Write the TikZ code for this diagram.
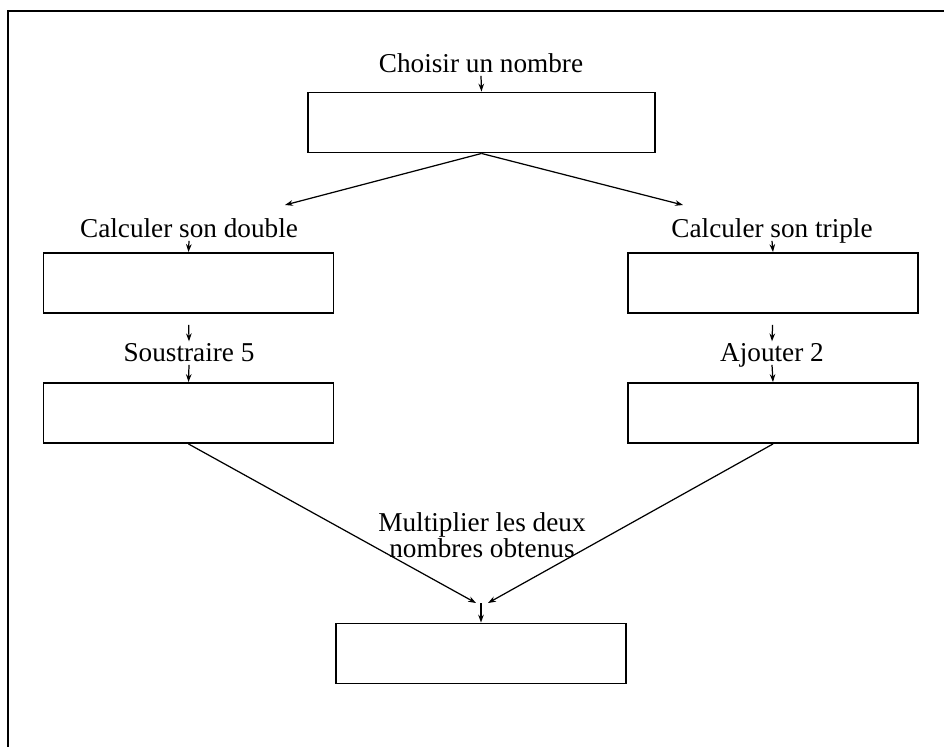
\documentclass[tikz,border=0pt]{standalone}
\usepackage{fontspec}
\setmainfont{Liberation Serif}
\usetikzlibrary{arrows.meta}

\begin{document}
\begin{tikzpicture}[x=0.02cm,y=-0.02cm,
  boite/.style={draw,line width=1.1pt,minimum width=5.8cm,minimum height=1.2cm,inner sep=0pt},
  etape/.style={font=\fontsize{15.5}{11}\selectfont,inner sep=1pt,text height=10pt,text depth=1pt,anchor=base,align=center},
  fleche/.style={line width=0.7pt,-{Stealth[length=4.5pt,width=3.2pt]}}]

\useasboundingbox (0,0) rectangle (944,747);

\draw [line width=1.1pt] (8,760) -- (8,11) -- (960,11);

\node [boite,minimum width=6.94cm] (depart) at (481.5,122.5) {};
\node [boite] (double) at (188.5,283) {};
\node [boite] (moins) at (188.5,413) {};
\node [boite] (triple) at (773,283) {};
\node [boite] (plus) at (773,413) {};
\node [boite] (produit) at (481,653.5) {};

\node [etape] (tchoisir) at (481,72) {Choisir un nombre};
\node [etape] (tdouble) at (189,237) {Calculer son double};
\node [etape] (ttriple) at (772,237) {Calculer son triple};
\node [etape] (tmoins) at (189,361) {Soustraire 5};
\node [etape] (tplus) at (772,361) {Ajouter 2};
\node [etape,anchor=center,text height=,text depth=] (tproduit) at (482,535) {Multiplier les deux\\[0pt]nombres obtenus};

\coordinate (gauche) at (285,205);
\coordinate (droite) at (683,205);
\coordinate (jg) at (476,603);
\coordinate (jd) at (488,603);
\coordinate (jm) at (481,603);

\draw [fleche] (tchoisir.south) -- (depart.north);
\draw [fleche] (depart.south) -- (gauche);
\draw [fleche] (depart.south) -- (droite);

\foreach \t/\b in {tdouble/double,ttriple/triple,tmoins/moins,tplus/plus}
   \draw [fleche] (\t.south) -- (\b.north);
\foreach \b/\t in {double/tmoins,triple/tplus}
   \draw [fleche,shorten <=0.22cm] (\b.south) -- (\t.north);

\draw [fleche] (moins.south) -- (jg);
\draw [fleche] (plus.south) -- (jd);
\draw [fleche] (jm) -- (produit.north);

\end{tikzpicture}
\end{document}
